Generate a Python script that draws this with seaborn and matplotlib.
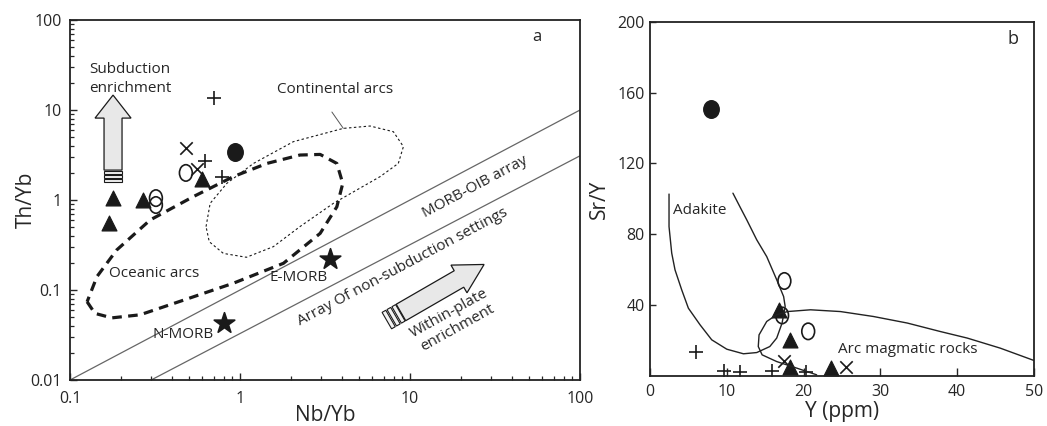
import numpy as np
import matplotlib
matplotlib.use("Agg")
import matplotlib.pyplot as plt
import matplotlib.path as mpath
from matplotlib.patches import Polygon
from matplotlib.ticker import LogLocator, FuncFormatter, NullFormatter
import matplotlib.transforms as mtransforms
import seaborn as sns

# ---- panel a: Th/Yb vs Nb/Yb ----
tri_nb = [0.18, 0.17, 0.27, 0.60]
tri_th = [1.05, 0.55, 1.00, 1.70]
ocirc_nb = [0.32, 0.32, 0.48]
ocirc_th = [1.05, 0.88, 2.00]
cross_nb = [0.48, 0.56]
cross_th = [3.8, 2.2]
plus_nb = [0.70, 0.62, 0.78]
plus_th = [13.5, 2.7, 1.8]
fcirc_nb = [0.93]
fcirc_th = [3.4]
morb_nb = [0.8, 3.4]
morb_th = [0.043, 0.22]
morb_labels = ["N-MORB", "E-MORB"]

array_upper_nb = [0.1, 100]
array_upper_th = [0.01, 10]
array_lower_nb = [0.3, 100]
array_lower_th = [0.01, 3.1]

oceanic_nb = [0.126, 0.140, 0.176, 0.258, 0.464, 0.914, 1.80, 2.96, 3.71, 4.02,
              3.71, 2.96, 2.25, 1.44, 0.914, 0.531, 0.296, 0.188, 0.144, 0.126]
oceanic_th = [0.074, 0.055, 0.049, 0.053, 0.077, 0.119, 0.198, 0.426, 0.84, 1.53,
              2.55, 3.21, 3.16, 2.55, 1.82, 1.09, 0.60, 0.278, 0.141, 0.074]

cont_nb = [0.631, 0.667, 0.836, 1.20, 2.06, 4.05, 5.82, 7.98, 9.14, 8.53,
           6.67, 3.54, 2.25, 1.57, 1.09, 0.798, 0.659, 0.631]
cont_th = [0.506, 0.918, 1.53, 2.55, 4.45, 6.25, 6.64, 5.74, 3.92, 2.55,
           1.82, 0.918, 0.506, 0.303, 0.231, 0.255, 0.344, 0.506]
leader_nb = [3.47, 4.05]
leader_th = [9.5, 6.25]

# ---- panel b: Sr/Y vs Y ----
b_fcirc_y = [8.0]
b_fcirc_sr = [151]
b_ocirc_y = [17.5, 17.2, 20.6]
b_ocirc_sr = [53.5, 34, 25]
b_tri_y = [16.8, 18.2, 18.2, 23.6]
b_tri_sr = [37, 20, 5, 4]
b_cross_y = [17.5, 25.5]
b_cross_sr = [8, 5]
b_plus_y = [6.0, 9.6, 11.7, 15.9, 20.3]
b_plus_sr = [13.5, 2.5, 2.0, 2.5, 2.0]

adakite_y = [2.48, 2.48, 2.83, 3.26, 4.13, 5.0, 6.52, 8.04, 10.0, 12.17, 13.9,
             15.6, 16.5, 17.2, 17.6, 17.4, 16.5, 15.2, 13.9, 12.6, 11.7, 10.8]
adakite_sr = [102.7, 84.3, 69.3, 59.8, 48.5, 38.1, 28.7, 20.2, 14.9, 12.3, 13.0,
              16.4, 21.2, 29.7, 39.1, 44.7, 54.2, 67.3, 76.8, 88.1, 95.6, 103.2]
arc_y = [21.7, 19.1, 16.5, 14.6, 14.1, 14.2, 15.2, 16.5, 17.9, 20.9, 24.8,
         29.1, 33.5, 37.8, 41.3, 45.6, 50.0]
arc_sr = [0.4, 4.2, 7.9, 11.7, 16.4, 23.0, 30.6, 34.4, 36.2, 37.2, 36.2,
          33.4, 29.7, 24.9, 21.2, 15.5, 8.5]

sns.set_theme(style="ticks")
plt.rcParams["font.family"] = ["Open Sans", "DejaVu Sans"]
plt.rcParams["xtick.direction"] = "in"
plt.rcParams["ytick.direction"] = "in"

fig = plt.figure(figsize=(10.47, 4.26), dpi=100)
ax1 = fig.add_axes([0.0669, 0.108, 0.4871, 0.845])
ax2 = fig.add_axes([0.6208, 0.1185, 0.3668, 0.8295])

ell = mpath.Path.unit_circle().transformed(mtransforms.Affine2D().scale(0.78, 1.0))
ell_f = mpath.Path.unit_circle().transformed(mtransforms.Affine2D().scale(0.88, 1.0))


def draw_points(ax, tri, ocirc, cross, plus, fcirc):
    sns.scatterplot(x=tri[0], y=tri[1], marker="^", s=115, color="k", edgecolor="k", ax=ax)
    sns.scatterplot(x=ocirc[0], y=ocirc[1], marker=ell, s=140, facecolor="none",
                    edgecolor="k", linewidth=1.2, ax=ax)
    sns.scatterplot(x=cross[0], y=cross[1], marker="x", s=80, color="k", linewidth=1.2, ax=ax)
    sns.scatterplot(x=plus[0], y=plus[1], marker="+", s=100, color="k", linewidth=1.2, ax=ax)
    sns.scatterplot(x=fcirc[0], y=fcirc[1], marker=ell_f, s=160, color="k", edgecolor="k", ax=ax)


def block_arrow(ax, anchor, angle, stripes, body, head, width, head_width):
    # arrow shape in pixels along its own axis, placed at an axes-fraction anchor
    x0, y0 = ax.transAxes.transform(anchor)
    tr = mtransforms.Affine2D().rotate_deg(angle).translate(x0, y0)
    hw, hh = width / 2, head_width / 2
    shape = [(stripes, -hw), (body, -hw), (body, -hh), (head, 0),
             (body, hh), (body, hw), (stripes, hw)]
    ax.add_patch(Polygon(shape, closed=True, fc="#e8e8e8", ec="k", lw=0.9,
                         transform=tr, clip_on=False))
    step = stripes / 3
    for i in range(3):
        a, b = i * step + 0.7, (i + 1) * step - 0.7
        ax.add_patch(Polygon([(a, -hw), (b, -hw), (b, hw), (a, hw)], closed=True,
                             fc="#f2f2f2", ec="k", lw=0.8, transform=tr, clip_on=False))


# ---- panel a ----
ax1.set_xscale("log")
ax1.set_yscale("log")
sns.lineplot(x=array_upper_nb, y=array_upper_th, color="#666666", lw=0.9, ax=ax1)
sns.lineplot(x=array_lower_nb, y=array_lower_th, color="#666666", lw=0.9, ax=ax1)
sns.lineplot(x=oceanic_nb, y=oceanic_th, sort=False, estimator=None, color="k",
             lw=2.3, linestyle=(0, (3, 2)), ax=ax1)
sns.lineplot(x=cont_nb, y=cont_th, sort=False, estimator=None, color="k",
             lw=0.8, linestyle=(0, (2.2, 2.2)), ax=ax1)
sns.lineplot(x=leader_nb, y=leader_th, color="#555555", lw=0.7, ax=ax1)

draw_points(ax1, (tri_nb, tri_th), (ocirc_nb, ocirc_th), (cross_nb, cross_th),
            (plus_nb, plus_th), (fcirc_nb, fcirc_th))
sns.scatterplot(x=morb_nb, y=morb_th, marker="*", s=240, color="k", edgecolor="k", ax=ax1)

ax1.set_xlim(0.1, 100)
ax1.set_ylim(0.01, 100)
fmt = FuncFormatter(lambda v, p: f"{v:g}")
ax1.xaxis.set_major_formatter(fmt)
ax1.yaxis.set_major_formatter(fmt)
ax1.xaxis.set_minor_locator(LogLocator(base=10, subs=np.arange(2, 10)))
ax1.yaxis.set_minor_locator(LogLocator(base=10, subs=np.arange(2, 10)))
ax1.xaxis.set_minor_formatter(NullFormatter())
ax1.yaxis.set_minor_formatter(NullFormatter())
ax1.tick_params(which="major", length=5, width=1, labelsize=11.5)
ax1.tick_params(axis="x", which="major", pad=8)
ax1.tick_params(axis="y", which="major", pad=6)
ax1.tick_params(which="minor", length=3, width=0.9)
ax1.set_xlabel("Nb/Yb", fontsize=15)
ax1.set_ylabel("Th/Yb", fontsize=15)
ax1.xaxis.set_label_coords(0.5, -0.07)
ax1.yaxis.set_label_coords(-0.066, 0.5)

fs = 11
ax1.text(0.118, 0.836, "Subduction\nenrichment", transform=ax1.transAxes, fontsize=fs,
         ha="center", va="center", linespacing=1.3)
ax1.text(3.62, 16.7, "Continental arcs", fontsize=fs, ha="center", va="center")
ax1.text(0.165, 0.297, "Oceanic arcs", transform=ax1.transAxes, fontsize=fs, ha="center", va="center")
ax1.text(0.449, 0.286, morb_labels[1], transform=ax1.transAxes, fontsize=fs, ha="center", va="center")
ax1.text(0.221, 0.125, morb_labels[0], transform=ax1.transAxes, fontsize=fs, ha="center", va="center")
ax1.text(0.795, 0.535, "MORB-OIB array", transform=ax1.transAxes, fontsize=fs,
         ha="center", va="center", rotation=28, rotation_mode="anchor")
ax1.text(0.653, 0.314, "Array Of non-subduction settings", transform=ax1.transAxes,
         fontsize=fs, ha="center", va="center", rotation=28, rotation_mode="anchor")
ax1.text(0.752, 0.165, "Within-plate\nenrichment", transform=ax1.transAxes, fontsize=fs,
         ha="center", va="center", rotation=29, rotation_mode="anchor", linespacing=1.2)
ax1.text(0.915, 0.953, "a", transform=ax1.transAxes, fontsize=12, ha="center", va="center")

block_arrow(ax1, (0.0843, 0.547), 90, 13, 65, 88, 18, 36)
block_arrow(ax1, (0.620, 0.164), 30, 17, 84, 113, 19, 32)

for s in ax1.spines.values():
    s.set_linewidth(1.3)
    s.set_color("#222222")

# ---- panel b ----
sns.lineplot(x=adakite_y, y=adakite_sr, sort=False, estimator=None, color="#222222", lw=1.0, ax=ax2)
sns.lineplot(x=arc_y, y=arc_sr, sort=False, estimator=None, color="#222222", lw=1.0, ax=ax2)
draw_points(ax2, (b_tri_y, b_tri_sr), (b_ocirc_y, b_ocirc_sr), (b_cross_y, b_cross_sr),
            (b_plus_y, b_plus_sr), (b_fcirc_y, b_fcirc_sr))

ax2.set_xlim(0, 50)
ax2.set_ylim(0, 200)
ax2.set_xticks([0, 10, 20, 30, 40, 50])
ax2.set_yticks([40, 80, 120, 160, 200])
ax2.tick_params(axis="x", length=6, width=1, labelsize=11.5, pad=6)
ax2.tick_params(axis="y", length=4, width=1, labelsize=11.5, pad=4)
ax2.set_xlabel("Y (ppm)", fontsize=15)
ax2.set_ylabel("Sr/Y", fontsize=15)
ax2.xaxis.set_label_coords(0.5, -0.072)
ax2.yaxis.set_label_coords(-0.104, 0.5)
ax2.text(3.0, 93.5, "Adakite", fontsize=fs, ha="left", va="center")
ax2.text(24.5, 15, "Arc magmatic rocks", fontsize=fs, ha="left", va="center")
ax2.text(0.946, 0.952, "b", transform=ax2.transAxes, fontsize=13, ha="center", va="center")
for s in ax2.spines.values():
    s.set_linewidth(1.3)
    s.set_color("#222222")

fig.savefig("out.png", dpi=100)
